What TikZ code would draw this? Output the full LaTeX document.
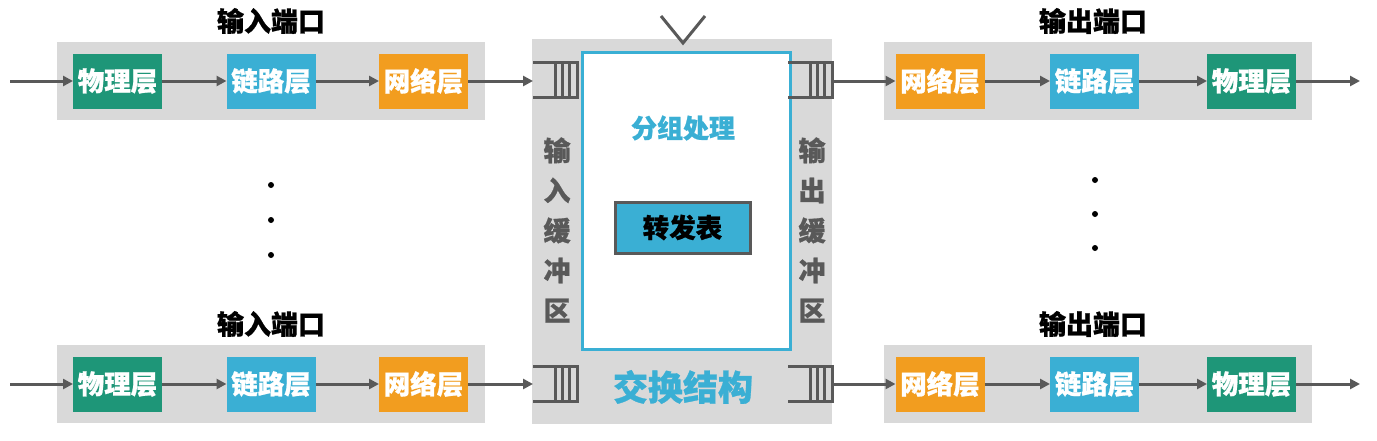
\documentclass[tikz,border=0pt]{standalone}
\usepackage{fontspec}
\setmainfont{Noto Sans CJK SC}[BoldFeatures={FakeBold=0.8}]
\usetikzlibrary{arrows.meta,calc}
\definecolor{cgreen}{HTML}{1E9678}
\definecolor{ccyan}{HTML}{3AAFD4}
\definecolor{corange}{HTML}{F29D1F}
\definecolor{cbg}{HTML}{D9D9D9}
\definecolor{cdark}{HTML}{595959}
\newcommand\bufdraw[1]{%
  \draw[bufline] (#1.north west) -- (#1.north east) -- (#1.south east) -- (#1.south west);
  \foreach \f in {0.5,0.68,0.84}{\draw[bufline] ($(#1.north west)!\f!(#1.north east)$) -- ($(#1.south west)!\f!(#1.south east)$);}}
\tikzset{
  layer/.style={minimum width=89pt, minimum height=55pt, inner sep=0pt, outer sep=0pt,
    font=\fontsize{26.5}{26.5}\selectfont\bfseries, text=white},
  phy/.style={layer, fill=cgreen},
  lnk/.style={layer, fill=ccyan},
  net/.style={layer, fill=corange},
  portbg/.style={fill=cbg, minimum width=428pt, minimum height=78pt, inner sep=0pt},
  flow/.style={draw=cdark, line width=3pt, -{Triangle[length=10pt,width=10pt]}},
  ttl/.style={font=\fontsize{27}{27}\selectfont\bfseries, text=black},
  bufbox/.style={minimum width=44pt, minimum height=35pt, inner sep=0pt, outer sep=0pt},
  bufline/.style={draw=cdark, line width=3pt, line join=miter},
  vtext/.style={align=center, font=\fontsize{27}{40}\selectfont\bfseries, text=cdark},
}
\begin{document}
\begin{tikzpicture}[x=1pt,y=-1pt]
\fill[white] (0,0) rectangle (1377,440);
\useasboundingbox (0,0) rectangle (1377,440);

% switch fabric
\node[fill=cbg, minimum width=300pt, minimum height=385pt, inner sep=0pt] (fabric) at (682,231.5) {};
\node[draw=ccyan, fill=white, line width=3pt, minimum width=208pt, minimum height=297pt, inner sep=0pt] (proc) at (686,200.5) {};
\draw[draw=cdark, line width=3pt, line join=miter] (661,16) -- (683,43) -- (705,16);
\node[font=\fontsize{26}{26}\selectfont\bfseries, text=ccyan] (ptitle) at (683,128) {分组处理};
\node[draw=cdark, fill=ccyan, line width=3pt, minimum width=135pt, minimum height=51pt, inner sep=0pt,
      font=\fontsize{26.5}{26.5}\selectfont\bfseries, text=black] (fwd) at (682.5,227.5) {转发表};
\node[font=\fontsize{35}{35}\selectfont\bfseries, text=ccyan] (ftitle) at (683,387) {交换结构};
\node[vtext] (vin) at (557,230) {输\\入\\缓\\冲\\区};
\node[vtext] (vout) at (812,230) {输\\出\\缓\\冲\\区};

% buffers
\node[bufbox] (bl1) at (555,80) {};
\node[bufbox] (bl2) at (555,383.5) {};
\node[bufbox] (br1) at (810,80) {};
\node[bufbox] (br2) at (810,383.5) {};
\bufdraw{bl1}\bufdraw{bl2}\bufdraw{br1}\bufdraw{br2}

% input ports
\foreach \n/\y in {1/81,2/384}{
  \node[portbg] (ibg\n) at (271,\y) {};
  \node[ttl] (it\n) at (271,\y-60) {输入端口};
  \node[phy] (ip\n) at (117.5,\y) {物理层};
  \node[lnk] (il\n) at (271,\y) {链路层};
  \node[net] (in\n) at (423.5,\y) {网络层};
  \coordinate (src\n) at (10,\y);
  \draw[flow] (src\n) -- (ip\n);
  \draw[flow] (ip\n) -- (il\n);
  \draw[flow] (il\n) -- (in\n);
  \draw[flow] (in\n) -- (in\n -| bl\n.west);
}

% output ports
\foreach \n/\y in {1/81,2/384}{
  \node[portbg] (obg\n) at (1097.5,\y) {};
  \node[ttl] (ot\n) at (1093,\y-60) {输出端口};
  \node[net] (on\n) at (940,\y) {网络层};
  \node[lnk] (ol\n) at (1094.5,\y) {链路层};
  \node[phy] (op\n) at (1251.5,\y) {物理层};
  \coordinate (dst\n) at (1360,\y);
  \draw[flow] (on\n -| br\n.east) -- (on\n);
  \draw[flow] (on\n) -- (ol\n);
  \draw[flow] (ol\n) -- (op\n);
  \draw[flow] (op\n) -- (dst\n);
}

% ellipsis dots
\foreach \y in {185,220,255}{\fill[black] (271,\y) circle (3pt);}
\foreach \y in {180,214,248}{\fill[black] (1095,\y) circle (3pt);}
\end{tikzpicture}
\end{document}
